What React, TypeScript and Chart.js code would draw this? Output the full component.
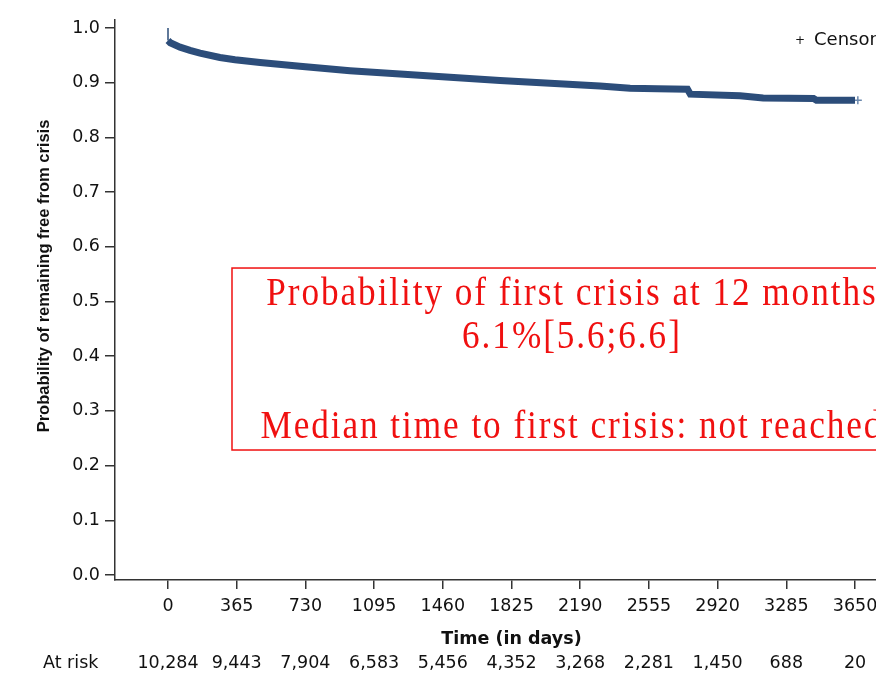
import React, { useEffect, useRef } from "react";
import { Chart, registerables } from "chart.js";

Chart.register(...registerables);

// ---- Data ----
const days = [0, 0, 12, 64, 117, 170, 276, 356, 489, 701, 967, 1233, 1498, 1764, 2030, 2295, 2455, 2600, 2760, 2775, 3039, 3162, 3430, 3445, 3650];
const survival = [1.0, 0.977, 0.973, 0.965, 0.959, 0.954, 0.946, 0.942, 0.937, 0.930, 0.922, 0.916, 0.910, 0.904, 0.899, 0.894, 0.890, 0.889, 0.888, 0.879, 0.876, 0.872, 0.871, 0.868, 0.868];
const censorDays = [3665];
const censorSurv = [0.868];
const xTicks = [0, 365, 730, 1095, 1460, 1825, 2190, 2555, 2920, 3285, 3650];
const yTicks = [0, 0.1, 0.2, 0.3, 0.4, 0.5, 0.6, 0.7, 0.8, 0.9, 1.0];
const atRisk = ["10,284", "9,443", "7,904", "6,583", "5,456", "4,352", "3,268", "2,281", "1,450", "688", "20"];
const boxLines = ["Probability of first crisis at 12 months", "6.1%[5.6;6.6]", "", "Median time to first crisis: not reached"];
const yTitle = "Probability of remaining free from crisis";
const xTitle = "Time (in days)";
const atRiskLabel = "At risk";
const legendLabel = "Censored";

const LINE_COLOR = "#2c4d7a";
const RED = "#f01010";
const TEXT = "#111111";

const overlayPlugin = {
  id: "overlay",
  afterDraw(chart: any) {
    const ctx = chart.ctx as CanvasRenderingContext2D;
    const xs = chart.scales.x;
    const ys = chart.scales.y;
    ctx.save();

    // y title
    ctx.save();
    ctx.translate(49, 276);
    ctx.rotate(-Math.PI / 2);
    ctx.font = 'bold 16.5px "Liberation Sans", Arial, sans-serif';
    ctx.fillStyle = TEXT;
    ctx.textAlign = "center";
    ctx.textBaseline = "alphabetic";
    ctx.fillText(yTitle, 0, 0);
    ctx.restore();

    // x title
    const midX = (xs.getPixelForValue(xTicks[0]) + xs.getPixelForValue(xTicks[xTicks.length - 1])) / 2;
    ctx.font = 'bold 17.5px "DejaVu Sans", sans-serif';
    ctx.fillStyle = TEXT;
    ctx.textAlign = "center";
    ctx.textBaseline = "alphabetic";
    ctx.fillText(xTitle, midX, 644);

    // at risk row
    ctx.font = '17.5px "DejaVu Sans", sans-serif';
    ctx.textAlign = "left";
    ctx.fillText(atRiskLabel, 43, 668);
    ctx.textAlign = "center";
    xTicks.forEach((t, i) => {
      ctx.fillText(atRisk[i], xs.getPixelForValue(t), 668);
    });

    // legend
    ctx.font = '12px "DejaVu Sans", sans-serif';
    ctx.textAlign = "left";
    ctx.fillText("+", 795, 44);
    ctx.font = '18px "DejaVu Sans", sans-serif';
    ctx.fillText(legendLabel, 814, 45);

    // annotation box
    const left = xs.getPixelForValue(340);
    const right = xs.getPixelForValue(3953);
    const top = ys.getPixelForValue(0.5612);
    const bottom = ys.getPixelForValue(0.2285);
    ctx.strokeStyle = RED;
    ctx.lineWidth = 1.5;
    ctx.strokeRect(left, top, right - left, bottom - top);
    const cx = xs.getPixelForValue(2146);
    ctx.fillStyle = RED;
    ctx.textAlign = "center";
    const offsets = [37, 80, 125, 170];
    const sx = 0.88;
    boxLines.forEach((l, i) => {
      if (!l) return;
      ctx.save();
      ctx.translate(cx, top + offsets[i]);
      ctx.scale(sx, 1);
      ctx.font = '40px "Liberation Serif", "Times New Roman", serif';
      (ctx as any).letterSpacing = "2.2px";
      ctx.fillText(l, 0, 0);
      (ctx as any).letterSpacing = "0px";
      ctx.restore();
    });
    ctx.restore();
  },
};

export default function App() {
  const ref = useRef<HTMLCanvasElement>(null);
  useEffect(() => {
    const canvas = ref.current;
    if (!canvas) return;
    const chart = new Chart(canvas, {
      type: "line",
      data: {
        datasets: [
          {
            label: "KM",
            data: days.map((d, i) => ({ x: d, y: survival[i] })),
            borderColor: LINE_COLOR,
            backgroundColor: LINE_COLOR,
            borderWidth: 7,
            pointRadius: 0,
            tension: 0,
            fill: false,
            segment: {
              borderWidth: (c: any) => (c.p0DataIndex === 0 ? 1.5 : 7),
            },
          } as any,
          {
            type: "scatter",
            label: "Censored",
            data: censorDays.map((d, i) => ({ x: d, y: censorSurv[i] })),
            pointStyle: "cross",
            pointRadius: 4,
            borderWidth: 1.5,
            borderColor: "#6b88ad",
            backgroundColor: "#6b88ad",
          } as any,
        ],
      },
      options: {
        animation: false,
        responsive: false,
        devicePixelRatio: 1,
        layout: { autoPadding: false, padding: { top: 20, left: 0, right: 0, bottom: 0 } },
        plugins: { legend: { display: false }, tooltip: { enabled: false }, title: { display: false } },
        scales: {
          x: {
            type: "linear",
            min: -281.6,
            max: 3761.5,
            afterBuildTicks: (s: any) => {
              s.ticks = xTicks.map((v) => ({ value: v }));
            },
            afterFit: (s: any) => {
              s.height = 93;
              s.paddingLeft = 0;
              s.paddingRight = 0;
            },
            grid: { display: true, drawOnChartArea: false, drawTicks: true, tickLength: 9, color: "#333", lineWidth: 1.5 },
            border: { display: true, color: "#333", width: 1.5 },
            ticks: {
              autoSkip: false,
              maxRotation: 0,
              padding: 7,
              color: TEXT,
              font: { family: '"DejaVu Sans", sans-serif', size: 17.5 },
              callback: (v: any) => String(v),
            },
          },
          y: {
            type: "linear",
            min: -0.00914,
            max: 1.01463,
            afterBuildTicks: (s: any) => {
              s.ticks = yTicks.map((v) => ({ value: v }));
            },
            afterFit: (s: any) => {
              s.width = 115;
              s.paddingTop = 0;
              s.paddingBottom = 0;
            },
            grid: { display: true, drawOnChartArea: false, drawTicks: true, tickLength: 10, color: "#333", lineWidth: 1.5 },
            border: { display: true, color: "#333", width: 1.5 },
            ticks: {
              autoSkip: false,
              padding: 5,
              color: TEXT,
              font: { family: '"DejaVu Sans", sans-serif', size: 17.5 },
              callback: (v: any) => Number(v).toFixed(1),
            },
          },
        },
      },
      plugins: [overlayPlugin],
    });
    return () => chart.destroy();
  }, []);
  return (
    <div style={{ position: "fixed", left: 0, top: 0, width: 876, height: 673, background: "#fff" }}>
      <canvas ref={ref} width={876} height={673} style={{ display: "block" }} />
    </div>
  );
}
